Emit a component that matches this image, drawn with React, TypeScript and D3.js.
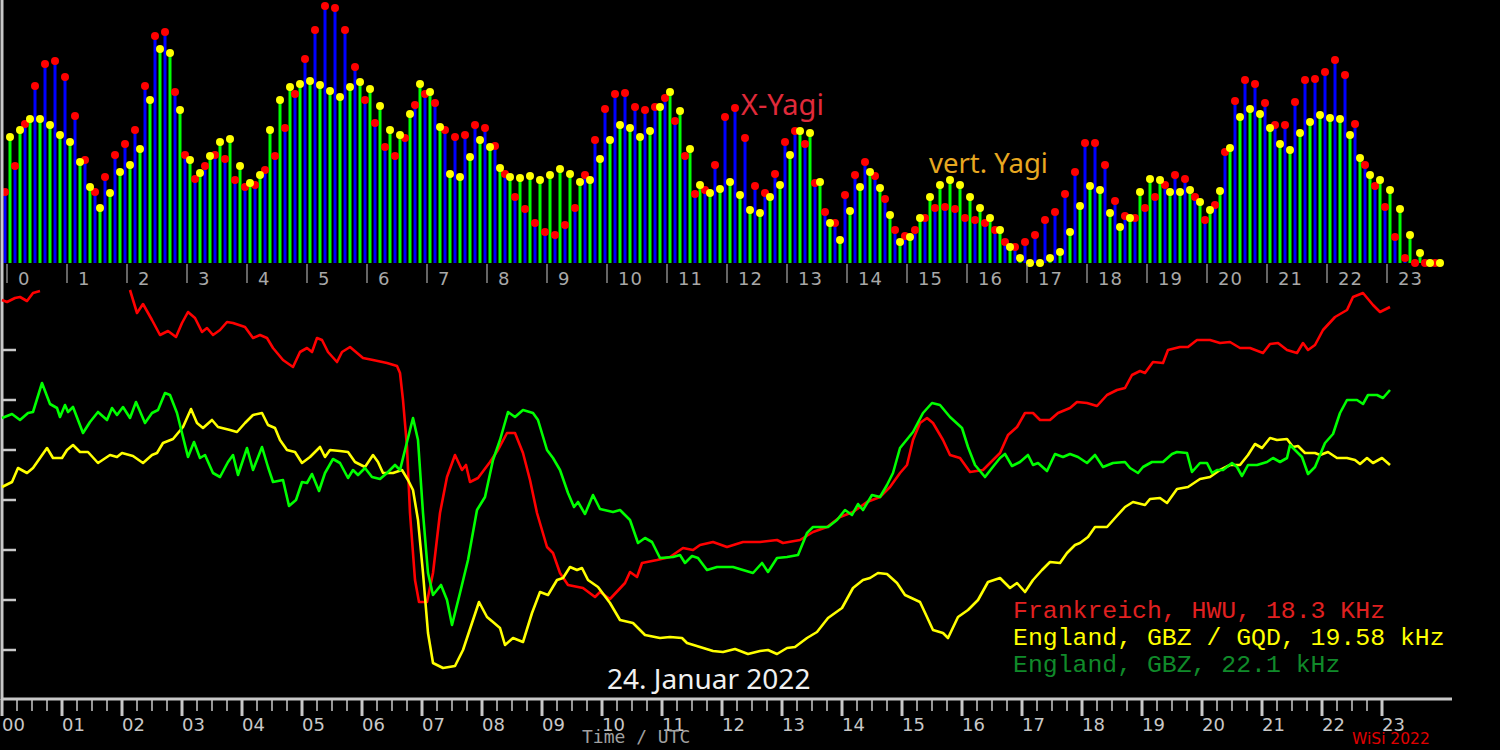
import React from 'react';
import * as d3 from 'd3';

// Data

// top panel: 10 minute slots, relative level per antenna
const xYagiLevels: number[] = [
    71, 97, 139, 177, 199, 202, 186, 147, 103, 71,
    86, 108, 119, 133, 177, 227, 231, 171, 108, 84,
    97, 108, 104, 83, 76, 78, 93, 107, 135, 169,
    204, 233, 257, 255, 233, 196, 163, 140, 116, 107,
    125, 158, 169, 160, 133, 126, 128, 138, 135, 117,
    89, 66, 54, 40, 31, 28, 38, 55, 88, 123,
    154, 169, 170, 156, 153, 156, 165, 142, 107, 69,
    73, 98, 146, 155, 125, 77, 70, 89, 121, 132,
    119, 80, 51, 40, 68, 88, 101, 87, 64, 33,
    27, 33, 45, 55, 56, 54, 45, 43, 40, 33,
    21, 16, 21, 28, 43, 51, 69, 91, 120, 120,
    98, 62, 47, 45, 55, 66, 78, 88, 84, 66,
    43, 58, 111, 162, 183, 179, 160, 138, 138, 161,
    183, 184, 191, 203, 188, 139, 98, 77, 56, 26,
    5, 0, 0, 0,
];

const vertYagiLevels: number[] = [
    126, 133, 144, 144, 138, 128, 121, 101, 76, 55,
    70, 91, 98, 114, 163, 214, 210, 153, 103, 90,
    107, 121, 124, 97, 80, 88, 133, 163, 176, 179,
    182, 178, 172, 166, 176, 181, 174, 157, 133, 128,
    149, 179, 171, 136, 89, 86, 106, 123, 116, 95,
    86, 85, 87, 83, 88, 94, 89, 81, 83, 104,
    123, 138, 135, 126, 132, 156, 171, 152, 114, 78,
    70, 74, 81, 68, 53, 50, 66, 78, 108, 132,
    130, 81, 40, 23, 52, 76, 91, 75, 48, 21,
    26, 45, 66, 78, 83, 78, 66, 55, 45, 33,
    16, 5, 0, 0, 5, 11, 31, 57, 77, 73,
    50, 36, 45, 71, 84, 83, 71, 71, 73, 61,
    53, 72, 115, 146, 154, 149, 135, 119, 113, 130,
    141, 148, 145, 144, 128, 105, 88, 83, 73, 54,
    28, 10, 0, 0,
];

// bottom panel: [minute UTC, level]
const hwuTrace: [number, number | null][] = [
    [0, 400], [5, 398], [13, 402], [18, 403], [25, 399], [31, 407], [38, 409], [80, null],
    [128, 410], [135, 387], [141, 396], [150, 380], [158, 365], [166, 369], [174, 363], [180, 377],
    [186, 388], [193, 382], [200, 368], [205, 372], [211, 365], [218, 370], [225, 378], [231, 377],
    [243, 373], [251, 362], [258, 365], [265, 362], [271, 352], [281, 340], [291, 333], [298, 348],
    [305, 352], [310, 348], [315, 362], [320, 360], [326, 348], [335, 338], [340, 348], [348, 353],
    [361, 342], [371, 340], [385, 337], [395, 334], [398, 327], [401, 300], [405, 253], [408, 187],
    [413, 120], [417, 98], [425, 98], [431, 127], [438, 187], [445, 223], [453, 245], [460, 230],
    [464, 235], [468, 218], [476, 222], [488, 238], [496, 250], [505, 267], [513, 267], [521, 247],
    [528, 220], [535, 187], [545, 153], [551, 147], [558, 127], [566, 115], [581, 112], [593, 103],
    [598, 108], [608, 101], [623, 117], [628, 128], [635, 123], [640, 137], [655, 140], [668, 143],
    [681, 152], [691, 150], [698, 155], [711, 158], [725, 153], [741, 158], [758, 158], [775, 160],
    [781, 157], [798, 160], [811, 168], [825, 173], [838, 183], [851, 188], [865, 198], [878, 203],
    [888, 213], [898, 227], [905, 235], [911, 260], [918, 277], [925, 282], [931, 277], [941, 260],
    [948, 245], [958, 242], [968, 228], [981, 230], [991, 240], [998, 247], [1006, 265], [1015, 273],
    [1023, 287], [1031, 287], [1038, 280], [1048, 280], [1056, 287], [1068, 292], [1075, 298], [1085, 297],
    [1095, 294], [1105, 305], [1115, 310], [1123, 312], [1130, 325], [1138, 329], [1143, 327], [1151, 338],
    [1161, 337], [1166, 350], [1178, 353], [1186, 353], [1195, 360], [1208, 360], [1218, 357], [1228, 358],
    [1238, 352], [1248, 352], [1261, 347], [1268, 356], [1276, 357], [1285, 350], [1295, 347], [1301, 357],
    [1306, 350], [1313, 355], [1321, 370], [1333, 383], [1345, 390], [1351, 403], [1361, 407], [1371, 395],
    [1378, 388], [1388, 393],
];

const gqdTrace: [number, number][] = [
    [0, 213], [10, 218], [16, 232], [25, 227], [31, 232], [38, 242], [45, 252], [51, 242],
    [60, 242], [65, 250], [71, 255], [78, 248], [86, 248], [96, 237], [108, 245], [115, 243],
    [120, 247], [131, 244], [141, 237], [150, 245], [155, 247], [161, 257], [171, 261], [181, 273],
    [189, 291], [195, 277], [201, 272], [210, 280], [216, 273], [228, 270], [235, 268], [243, 277],
    [251, 285], [260, 287], [266, 275], [273, 272], [278, 260], [285, 250], [293, 248], [300, 237],
    [308, 243], [318, 253], [323, 243], [328, 250], [338, 249], [346, 248], [353, 238], [363, 233],
    [371, 245], [376, 238], [381, 227], [391, 227], [400, 230], [406, 220], [411, 210], [416, 180],
    [421, 127], [426, 67], [431, 37], [441, 32], [453, 34], [461, 50], [470, 77], [477, 98],
    [485, 83], [491, 78], [498, 72], [503, 55], [511, 62], [521, 58], [530, 87], [538, 108],
    [546, 105], [555, 120], [561, 122], [568, 133], [575, 130], [580, 132], [586, 120], [596, 113],
    [608, 97], [618, 80], [631, 77], [643, 65], [658, 62], [668, 63], [680, 62], [685, 57],
    [698, 53], [711, 49], [721, 48], [733, 51], [746, 46], [758, 49], [766, 50], [775, 46],
    [785, 52], [793, 53], [805, 62], [815, 68], [826, 82], [840, 92], [851, 112], [861, 120],
    [868, 122], [876, 127], [885, 126], [895, 117], [903, 105], [918, 98], [925, 83], [931, 70],
    [941, 67], [946, 62], [956, 83], [966, 90], [976, 100], [986, 118], [998, 122], [1008, 112],
    [1015, 117], [1023, 108], [1031, 120], [1040, 130], [1048, 138], [1058, 137], [1065, 147], [1073, 155],
    [1078, 157], [1086, 163], [1093, 173], [1105, 173], [1113, 182], [1123, 193], [1131, 198], [1143, 195],
    [1148, 201], [1158, 202], [1165, 197], [1175, 211], [1186, 213], [1198, 221], [1208, 223], [1218, 230],
    [1228, 235], [1238, 235], [1246, 245], [1253, 256], [1260, 252], [1268, 262], [1275, 260], [1285, 261],
    [1291, 253], [1296, 254], [1303, 247], [1313, 247], [1318, 245], [1326, 248], [1335, 242], [1345, 242],
    [1353, 240], [1358, 236], [1365, 242], [1371, 237], [1380, 242], [1388, 235],
];

const gbzTrace: [number, number][] = [
    [0, 282], [10, 286], [18, 280], [26, 287], [31, 288], [40, 317], [48, 296], [55, 292],
    [58, 283], [63, 295], [66, 288], [71, 293], [76, 280], [81, 267], [88, 278], [96, 288],
    [105, 280], [110, 292], [115, 285], [121, 293], [128, 282], [134, 298], [143, 277], [150, 287],
    [156, 290], [163, 307], [168, 305], [175, 287], [180, 267], [186, 243], [192, 258], [198, 242],
    [203, 245], [211, 227], [218, 223], [226, 238], [231, 245], [236, 225], [245, 252], [251, 230],
    [260, 253], [266, 233], [271, 218], [281, 220], [287, 194], [294, 200], [300, 218], [305, 217],
    [310, 226], [317, 209], [323, 227], [331, 241], [338, 237], [346, 222], [351, 230], [356, 225],
    [363, 232], [370, 223], [378, 221], [385, 227], [393, 235], [398, 230], [403, 250], [411, 282],
    [416, 260], [421, 187], [426, 127], [431, 105], [439, 115], [445, 100], [450, 75], [458, 107],
    [466, 140], [475, 190], [483, 203], [491, 240], [498, 260], [506, 288], [513, 283], [521, 290],
    [531, 287], [536, 280], [545, 250], [551, 242], [558, 230], [566, 207], [572, 193], [576, 198],
    [583, 186], [591, 205], [598, 191], [611, 188], [618, 190], [628, 180], [636, 157], [643, 162],
    [650, 158], [658, 142], [671, 143], [678, 145], [683, 137], [690, 144], [696, 142], [705, 130],
    [715, 133], [731, 133], [741, 130], [751, 127], [760, 137], [766, 128], [775, 142], [785, 143],
    [796, 145], [805, 167], [811, 173], [826, 173], [835, 180], [843, 190], [850, 185], [856, 196],
    [861, 190], [870, 205], [878, 203], [885, 215], [891, 227], [898, 252], [911, 268], [921, 287],
    [930, 297], [938, 295], [948, 283], [960, 272], [966, 253], [973, 235], [983, 223], [990, 232],
    [998, 242], [1003, 246], [1010, 234], [1018, 238], [1026, 245], [1031, 235], [1036, 237], [1045, 229],
    [1053, 246], [1061, 243], [1068, 246], [1076, 243], [1085, 237], [1093, 245], [1101, 233], [1111, 237],
    [1123, 238], [1128, 232], [1136, 227], [1141, 233], [1150, 238], [1161, 238], [1170, 246], [1175, 248],
    [1185, 247], [1190, 228], [1198, 237], [1205, 237], [1210, 227], [1215, 230], [1221, 230], [1230, 237],
    [1235, 233], [1240, 224], [1246, 235], [1255, 235], [1265, 238], [1271, 242], [1278, 238], [1285, 242],
    [1288, 255], [1293, 250], [1300, 243], [1306, 226], [1313, 233], [1318, 245], [1323, 257], [1331, 266],
    [1338, 287], [1345, 300], [1355, 300], [1361, 296], [1366, 305], [1375, 305], [1381, 302], [1388, 310],
];

const hourLabels: string[] = d3.range(24).map((h) => String(h));
const hourLabels2: string[] = d3.range(24).map((h) => String(h).padStart(2, '0'));
const levelTicks: number[] = [50, 100, 150, 200, 250, 300, 350];

const legendItems = [
    { text: 'Frankreich, HWU, 18.3 KHz', color: '#e02020' },
    { text: 'England, GBZ / GQD, 19.58 kHz', color: '#ffff00' },
    { text: 'England, GBZ, 22.1 kHz', color: '#108a2a' },
];

function VlfChart() {
    const ref = React.useRef<SVGSVGElement>(null);

    React.useEffect(() => {
        document.body.style.margin = '0';
        document.body.style.overflow = 'hidden';
        document.body.style.background = '#000';

        const width = 1500;
        const height = 750;
        const svg = d3.select(ref.current!);
        svg.selectAll('*').remove();
        svg.attr('width', width).attr('height', height);

        svg.append('rect').attr('width', width).attr('height', height).attr('fill', '#000');

        // top panel
        const xTop = d3.scaleLinear().domain([0, 1440]).range([7, 1447]);
        const yTop = d3.scaleLinear().domain([0, 260]).range([263, 3]);

        const gBars = svg.append('g');
        gBars.selectAll('rect.x')
            .data(xYagiLevels)
            .join('rect')
            .attr('x', (d, i) => xTop(i * 10) - 3.5)
            .attr('y', (d) => yTop(d))
            .attr('width', 3)
            .attr('height', (d) => yTop(0) - yTop(d))
            .attr('fill', '#0000ff');
        gBars.selectAll('rect.v')
            .data(vertYagiLevels)
            .join('rect')
            .attr('x', (d, i) => xTop(i * 10) + 1.5)
            .attr('y', (d) => yTop(d))
            .attr('width', 3)
            .attr('height', (d) => yTop(0) - yTop(d))
            .attr('fill', '#00ff00');

        const gDots = svg.append('g');
        gDots.append('g').selectAll('circle')
            .data(xYagiLevels)
            .join('circle')
            .attr('cx', (d, i) => xTop(i * 10) - 2)
            .attr('cy', (d) => yTop(d))
            .attr('r', 4)
            .attr('fill', '#ff0000');
        gDots.append('g').selectAll('circle')
            .data(vertYagiLevels)
            .join('circle')
            .attr('cx', (d, i) => xTop(i * 10) + 3)
            .attr('cy', (d) => yTop(d))
            .attr('r', 4)
            .attr('fill', '#ffff00');

        const gTopAxis = svg.append('g');
        gTopAxis.selectAll('line')
            .data(hourLabels)
            .join('line')
            .attr('x1', (d, i) => xTop(i * 60))
            .attr('x2', (d, i) => xTop(i * 60))
            .attr('y1', 264)
            .attr('y2', 283)
            .attr('stroke', '#a8a8a8')
            .attr('stroke-width', 1.2);
        gTopAxis.selectAll('text')
            .data(hourLabels)
            .join('text')
            .attr('x', (d, i) => xTop(i * 60) + 11)
            .attr('y', 285)
            .attr('font-family', 'DejaVu Sans')
            .attr('font-size', 18)
            .attr('letter-spacing', 1)
            .attr('fill', '#a8a8a8')
            .text((d) => d);

        svg.append('text')
            .attr('x', 741).attr('y', 115)
            .attr('font-family', 'Noto Sans').attr('font-size', 29)
            .attr('fill', '#e02a3a')
            .text('X-Yagi');
        svg.append('text')
            .attr('x', 929).attr('y', 173)
            .attr('font-family', 'Noto Sans').attr('font-size', 27.5)
            .attr('fill', '#e8a820')
            .text('vert. Yagi');

        // bottom panel
        const xBot = d3.scaleLinear().domain([0, 1440]).range([2, 1442]);
        const yBot = d3.scaleLinear().domain([0, 400]).range([700, 300]);
        const axisColor = '#c8c8c8';

        const gAxes = svg.append('g').attr('stroke', axisColor);
        gAxes.append('line')
            .attr('x1', 2).attr('x2', 2).attr('y1', 0).attr('y2', 700)
            .attr('stroke-width', 3);
        gAxes.selectAll('line.lt')
            .data(levelTicks)
            .join('line')
            .attr('x1', 2).attr('x2', 16)
            .attr('y1', (d) => yBot(d)).attr('y2', (d) => yBot(d))
            .attr('stroke-width', 2.5);
        gAxes.append('line')
            .attr('x1', 1).attr('x2', 1452).attr('y1', 699).attr('y2', 699)
            .attr('stroke-width', 3);
        gAxes.selectAll('line.minor')
            .data(d3.range(0, 1381, 15).filter((m) => m % 60 !== 0))
            .join('line')
            .attr('x1', (d) => xBot(d)).attr('x2', (d) => xBot(d))
            .attr('y1', 699).attr('y2', 711)
            .attr('stroke-width', 1.5);
        gAxes.selectAll('line.major')
            .data(hourLabels2)
            .join('line')
            .attr('x1', (d, i) => xBot(i * 60)).attr('x2', (d, i) => xBot(i * 60))
            .attr('y1', 699).attr('y2', 716)
            .attr('stroke-width', 3);

        svg.append('g').selectAll('text')
            .data(hourLabels2)
            .join('text')
            .attr('x', (d, i) => xBot(i * 60))
            .attr('y', 731)
            .attr('font-family', 'DejaVu Sans')
            .attr('font-size', 18)
            .attr('fill', axisColor)
            .text((d) => d);

        const line = d3.line<[number, number | null]>()
            .defined((d) => d[1] != null)
            .x((d) => xBot(d[0]))
            .y((d) => yBot(d[1] as number));

        const gLines = svg.append('g')
            .attr('fill', 'none')
            .attr('stroke-width', 2.6)
            .attr('stroke-linejoin', 'round');
        gLines.append('path').attr('d', line(hwuTrace)).attr('stroke', '#ff0000');
        gLines.append('path').attr('d', line(gqdTrace)).attr('stroke', '#ffff00');
        gLines.append('path').attr('d', line(gbzTrace)).attr('stroke', '#00ff00');

        svg.append('g').selectAll('text')
            .data(legendItems)
            .join('text')
            .attr('x', 1013)
            .attr('y', (d, i) => 618 + i * 27)
            .attr('font-family', 'Liberation Mono')
            .attr('font-size', 24.8)
            .attr('fill', (d) => d.color)
            .text((d) => d.text);

        svg.append('text')
            .attr('x', 607).attr('y', 689)
            .attr('font-family', 'Noto Sans').attr('font-size', 28)
            .attr('fill', '#f0f0f0')
            .text('24. Januar 2022');

        svg.append('text')
            .attr('x', 582).attr('y', 743)
            .attr('font-family', 'DejaVu Sans Mono').attr('font-size', 18)
            .attr('fill', '#a0a0a0')
            .text('Time / UTC');

        svg.append('text')
            .attr('x', 1352).attr('y', 744)
            .attr('font-family', 'DejaVu Sans').attr('font-size', 15.5)
            .attr('fill', '#e00000')
            .text('WiSi 2022');
    }, []);

    return (
        <div style={{ position: 'absolute', left: 0, top: 0, width: 1500, height: 750, background: '#000' }}>
            <svg ref={ref} style={{ display: 'block' }}></svg>
        </div>
    );
}

export default function App() {
    return <VlfChart />;
}
